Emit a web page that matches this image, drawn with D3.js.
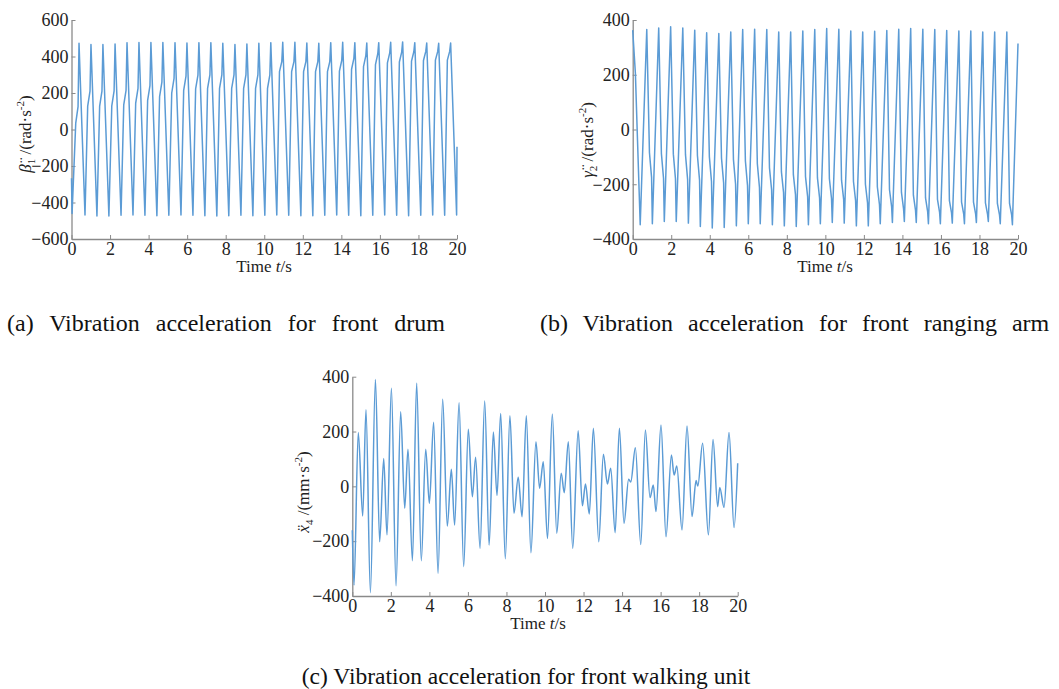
<!DOCTYPE html>
<html>
<head>
<meta charset="utf-8">
<script src="https://cdn.jsdelivr.net/npm/d3@7"></script>
<style>
  body { margin: 0; background: #fff; }
  text { font-family: "Liberation Serif", "Times New Roman", serif; }
</style>
</head>
<body>
<div id="chart"></div>
<script>
/** DATA */
const xTicks = [0, 2, 4, 6, 8, 10, 12, 14, 16, 18, 20];
const aTicks = [-600, -400, -200, 0, 200, 400, 600];
const bTicks = [-400, -200, 0, 200, 400];
const cTicks = [-400, -200, 0, 200, 400];

// (a) front drum: one rising edge (trough -> knee1 -> knee2 -> peak) and one falling edge per cycle
const aStartT = [0, 0.03];
const aStartV = [-267, -460];
const aPeakT = [0.39, 1.01, 1.63, 2.26, 2.88, 3.50, 4.12, 4.74, 5.37, 5.99, 6.61, 7.23, 7.85, 8.48, 9.10, 9.72,
  10.34, 10.96, 11.59, 12.21, 12.83, 13.45, 14.07, 14.70, 15.32, 15.94, 16.56, 17.18, 17.81, 18.43, 19.05, 19.67];
const aPeakV = [472, 466, 466, 468, 476, 477, 477, 477, 476, 474, 476, 476, 472, 466, 468, 472,
  476, 478, 478, 474, 472, 476, 478, 476, 474, 476, 478, 480, 476, 474, 472, 474];
const aKnee1V = [35, 128, 128, 130, 135, 145, 160, 180, 200, 215, 222, 226, 226, 226, 226, 226,
  226, 317, 317, 317, 317, 317, 320, 330, 345, 355, 365, 370, 375, 378, 380, 380];
const aKnee2V = [125, 210, 210, 212, 215, 225, 240, 260, 280, 292, 298, 299, 299, 299, 299, 299,
  299, 372, 372, 372, 372, 372, 378, 390, 405, 415, 420, 424, 426, 428, 428, 428];
const aTroughT = [0.70, 1.32, 1.94, 2.57, 3.19, 3.81, 4.43, 5.05, 5.68, 6.30, 6.92, 7.54, 8.16, 8.79, 9.41, 10.03,
  10.65, 11.27, 11.90, 12.52, 13.14, 13.76, 14.38, 15.01, 15.63, 16.25, 16.87, 17.49, 18.12, 18.74, 19.36, 19.98];
const aTroughV = [-468, -474, -474, -470, -468, -470, -472, -470, -468, -470, -472, -474, -472, -470, -472, -470,
  -468, -470, -472, -472, -470, -468, -470, -472, -470, -468, -470, -472, -470, -468, -470, -468];
const aEndV = -94;
const aKneeLead1 = 0.17, aKneeLead2 = 0.05;

// (b) front ranging arm: peak -> knee1 -> knee2 -> trough -> next peak
const bPeakT = [0, 0.73, 1.35, 1.97, 2.60, 3.22, 3.84, 4.47, 5.09, 5.71, 6.33, 6.96, 7.58, 8.20, 8.83, 9.45,
  10.07, 10.70, 11.32, 11.94, 12.56, 13.19, 13.81, 14.43, 15.06, 15.68, 16.30, 16.93, 17.55, 18.17, 18.79, 19.42];
const bPeakV = [363, 365, 371, 375, 371, 363, 353, 351, 356, 365, 366, 365, 356, 356, 360, 365,
  369, 366, 360, 356, 359, 362, 366, 369, 366, 365, 362, 360, 360, 356, 356, 356];
const bKnee1V = [205, -85, -88, -90, -92, -95, -100, -105, -110, -115, -125, -140, -155, -165, -172, -177,
  -180, -185, -190, -200, -210, -220, -230, -240, -250, -255, -260, -265, -265, -268, -270, -270];
const bKnee2V = [-40, -175, -178, -180, -182, -185, -190, -195, -200, -205, -212, -220, -230, -238, -245, -250,
  -252, -255, -260, -268, -275, -282, -290, -295, -300, -303, -305, -308, -308, -310, -312, -312];
const bTroughT = [0.39, 1.02, 1.64, 2.26, 2.89, 3.51, 4.13, 4.75, 5.38, 6.00, 6.62, 7.25, 7.87, 8.49, 9.12, 9.74,
  10.36, 10.98, 11.61, 12.23, 12.85, 13.48, 14.10, 14.72, 15.35, 15.97, 16.59, 17.22, 17.84, 18.46, 19.08, 19.71];
const bTroughV = [-348, -344, -336, -336, -342, -354, -360, -358, -352, -344, -344, -348, -352, -354, -348, -344,
  -340, -342, -352, -352, -344, -340, -336, -340, -344, -344, -342, -344, -340, -336, -344, -348];
const bEndV = 314;
const bKneeLag1 = 0.14, bKneeLag2 = 0.25;

// (c) front walking unit: turning points of the smooth trace
const cT = [0, 0.09, 0.31, 0.54, 0.71, 0.94, 1.20, 1.42, 1.63, 1.80, 2.03, 2.27, 2.51, 2.72, 2.89, 3.12,
  3.34, 3.58, 3.81, 4.00, 4.22, 4.45, 4.69, 4.93, 5.14, 5.31, 5.54, 5.78, 6.02, 6.23, 6.40, 6.63,
  6.87, 7.10, 7.32, 7.51, 7.70, 7.94, 8.18, 8.39, 8.61, 8.81, 9.03, 9.27, 9.53, 9.72, 9.91, 10.13,
  10.38, 10.61, 10.84, 11.00, 11.21, 11.44, 11.72, 11.94, 12.10, 12.30, 12.51, 12.79, 13.03, 13.24,
  13.41, 13.64, 13.86, 14.10, 14.34, 14.45, 14.69, 14.97, 15.21, 15.45, 15.62, 15.76, 16.02, 16.28,
  16.56, 16.70, 16.84, 17.11, 17.37, 17.63, 17.84, 17.93, 18.18, 18.48, 18.72, 18.96, 19.07, 19.29,
  19.55, 19.81, 20.0];
const cV = [-160, -360, 196, -108, 279, -388, 390, -202, 102, -177, 358, -363, 272, -80, 135, -271,
  376, -271, 135, -62, 234, -317, 318, -145, 62, -141, 305, -293, 208, -38, 106, -226,
  311, -214, 198, -33, 266, -264, 258, -98, 33, -111, 258, -242, 163, -7, 90, -190,
  264, -171, 48, -23, 163, -226, 203, -71, 9, -101, 212, -202, 117, 9,
  66, -169, 212, -135, 26, 16, 141, -212, 206, -41, 5, -92, 224, -184,
  114, 41, 74, -159, 220, -110, 21, 1, 157, -177, 171, -74, -4, -77,
  196, -150, 84];

/** BUILD VERTEX LISTS */
let aPts = aStartT.map((t, i) => [t, aStartV[i]]);
aPeakT.forEach((tp, i) => {
  aPts.push([tp - aKneeLead1, aKnee1V[i]]);
  aPts.push([tp - aKneeLead2, aKnee2V[i]]);
  aPts.push([tp, aPeakV[i]]);
  aPts.push([aTroughT[i], aTroughV[i]]);
});
aPts.push([20, aEndV]);

let bPts = [];
bPeakT.forEach((tp, i) => {
  bPts.push([tp, bPeakV[i]]);
  bPts.push([tp + bKneeLag1, bKnee1V[i]]);
  bPts.push([tp + bKneeLag2, bKnee2V[i]]);
  bPts.push([bTroughT[i], bTroughV[i]]);
});
bPts.push([20, bEndV]);

let cPts = cT.map((t, i) => [t, cV[i]]);

/** SVG */
const lineColor = "#5b9bd5";
const axisColor = "#8a8a8a";
const textColor = "#222";
let svg = d3.select("#chart").append("svg")
  .attr("width", 1059)
  .attr("height", 689);

function drawPanel(p) {
  let x = d3.scaleLinear().domain([0, 20]).range([p.left, p.right]);
  let y = d3.scaleLinear().domain(p.yDomain).range([p.bottom, p.top]);
  let g = svg.append("g");

  let xAxis = g.append("g")
    .attr("transform", `translate(0,${p.bottom})`)
    .call(d3.axisBottom(x).tickValues(xTicks).tickSizeInner(-4).tickSizeOuter(0).tickPadding(3));
  let yAxis = g.append("g")
    .attr("transform", `translate(${p.left},0)`)
    .call(d3.axisLeft(y).tickValues(p.yTicks).tickSizeInner(-4).tickSizeOuter(0).tickPadding(3));
  [xAxis, yAxis].forEach(ax => {
    ax.attr("font-family", null).attr("font-size", null);
    ax.select(".domain").attr("stroke", axisColor).attr("stroke-width", 1.3);
    ax.selectAll(".tick line").attr("stroke", axisColor).attr("stroke-width", 1);
    ax.selectAll(".tick text").attr("fill", textColor).style("font-size", "18px");
  });

  g.append("path")
    .datum(p.points)
    .attr("fill", "none")
    .attr("stroke", lineColor)
    .attr("stroke-width", 1.5)
    .attr("stroke-linejoin", "round")
    .attr("d", d3.line().x(d => x(d[0])).y(d => y(d[1])).curve(p.curve));

  // x label
  let xl = g.append("text")
    .attr("x", p.xLabelX)
    .attr("y", p.bottom + 33)
    .attr("text-anchor", "middle")
    .attr("fill", textColor)
    .style("font-size", "17px");
  xl.append("tspan").text("Time ");
  xl.append("tspan").style("font-style", "italic").text("t");
  xl.append("tspan").text("/s");

  // y label
  let yl = g.append("text")
    .attr("transform", `translate(${p.yLabelX},${p.yLabelY}) rotate(-90)`)
    .attr("text-anchor", "middle")
    .attr("fill", textColor)
    .style("font-size", "17px");
  yl.append("tspan").style("font-style", "italic").text(p.sym);
  yl.append("tspan").attr("dy", 4).style("font-size", "11px").text(p.sub);
  yl.append("tspan").attr("dy", -4).text(" /(" + p.unit + "·s");
  yl.append("tspan").attr("dy", -7).style("font-size", "11px").text("-2");
  yl.append("tspan").attr("dy", 7).text(")");
}

drawPanel({left: 71.5, right: 457, top: 20, bottom: 239, yDomain: [-600, 600], yTicks: aTicks,
  points: aPts, curve: d3.curveLinear, xLabelX: 264, yLabelX: 31, yLabelY: 134,
  sym: "β\u0308", sub: "1", unit: "rad"});
drawPanel({left: 632.7, right: 1018, top: 20, bottom: 239, yDomain: [-400, 400], yTicks: bTicks,
  points: bPts, curve: d3.curveLinear, xLabelX: 825, yLabelX: 593, yLabelY: 140,
  sym: "γ\u0308", sub: "2", unit: "rad"});
drawPanel({left: 352.3, right: 737.7, top: 376.7, bottom: 596, yDomain: [-400, 400], yTicks: cTicks,
  points: cPts, curve: d3.curveMonotoneX, xLabelX: 538, yLabelX: 309, yLabelY: 492,
  sym: "x\u0308", sub: "4", unit: "mm"});

/** CAPTIONS */
const captions = [
  {text: "(a) Vibration acceleration for front drum", x: 7, y: 331, anchor: "start", ws: 10, size: 24},
  {text: "(b) Vibration acceleration for front ranging arm", x: 540, y: 331, anchor: "start", ws: 9, size: 24},
  {text: "(c) Vibration acceleration for front walking unit", x: 526, y: 684, anchor: "middle", ws: 0, size: 23.5}
];
svg.append("g").selectAll("text")
  .data(captions).enter()
  .append("text")
  .attr("x", d => d.x)
  .attr("y", d => d.y)
  .attr("text-anchor", d => d.anchor)
  .attr("fill", "#111")
  .style("font-size", d => d.size + "px")
  .style("word-spacing", d => d.ws + "px")
  .text(d => d.text);
</script>
</body>
</html>
